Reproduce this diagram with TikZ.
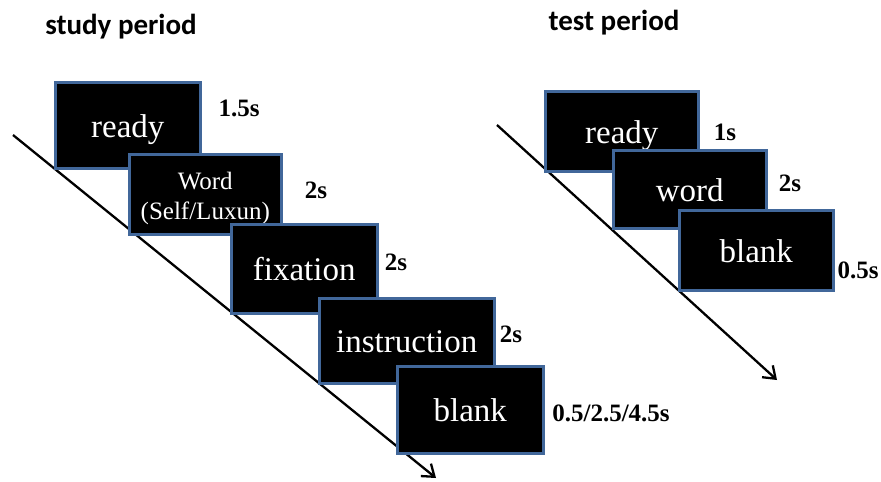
\documentclass[tikz,border=0pt]{standalone}
\usepackage{fontspec}
\setmainfont{Liberation Serif}
\newfontfamily\titlefont{Carlito}
\usetikzlibrary{arrows.meta}
\definecolor{boxblue}{HTML}{41679A}
\tikzset{
  stim/.style={draw=boxblue, line width=2.5pt, fill=black, text=white,
    anchor=north west, inner sep=0pt, align=center,
    text height=24pt, text depth=0pt,
    font=\fontsize{33}{35}\selectfont},
  dur/.style={font=\fontsize{25}{27}\selectfont\bfseries, anchor=center},
  heading/.style={font=\titlefont\fontsize{29}{31}\selectfont\bfseries},
  timeline/.style={line width=2.3pt, -{Straight Barb[length=11pt,width=16pt,line width=2.3pt]}}
}
\begin{document}
\begin{tikzpicture}[x=1pt,y=-1pt]
\useasboundingbox (0,0) rectangle (881,482);

% headings
\node[heading] (hs) at (121,27) {study period};
\node[heading] (ht) at (614,23) {test period};

% time axes
\coordinate (s0) at (13,135);
\coordinate (s1) at (436,478);
\draw[timeline] (s0) -- (s1);
\coordinate (t0) at (497,125);
\coordinate (t1) at (777,380);
\draw[timeline] (t0) -- (t1);

% study period screens
\node[stim, minimum width=145, minimum height=86] (sready) at (54,81) {ready};
\node[stim, minimum width=152, minimum height=80, text height=, text depth=,
      font=\fontsize{25}{30}\selectfont] (sword) at (128,153)
      {\rule{0pt}{25pt}Word\\(Self/Luxun)};
\node[stim, minimum width=146, minimum height=89] (sfix) at (230,223) {fixation};
\node[stim, minimum width=175, minimum height=85] (sinst) at (318,297) {instruction};
\node[stim, minimum width=146, minimum height=87] (sblank) at (396,365) {blank};

\node[dur] (d1) at (239,108) {1.5s};
\node[dur] (d2) at (316,190) {2s};
\node[dur] (d3) at (396,262) {2s};
\node[dur] (d4) at (511,334) {2s};
\node[dur] (d5) at (611,413) {0.5/2.5/4.5s};

% test period screens
\node[stim, minimum width=153, minimum height=80] (tready) at (544,90) {ready};
\node[stim, minimum width=153, minimum height=78] (tword) at (612,149) {word};
\node[stim, minimum width=154, minimum height=80] (tblank) at (678,209) {blank};

\node[dur] (e1) at (725,132) {1s};
\node[dur] (e2) at (790,183) {2s};
\node[dur] (e3) at (858,270) {0.5s};
\end{tikzpicture}
\end{document}
